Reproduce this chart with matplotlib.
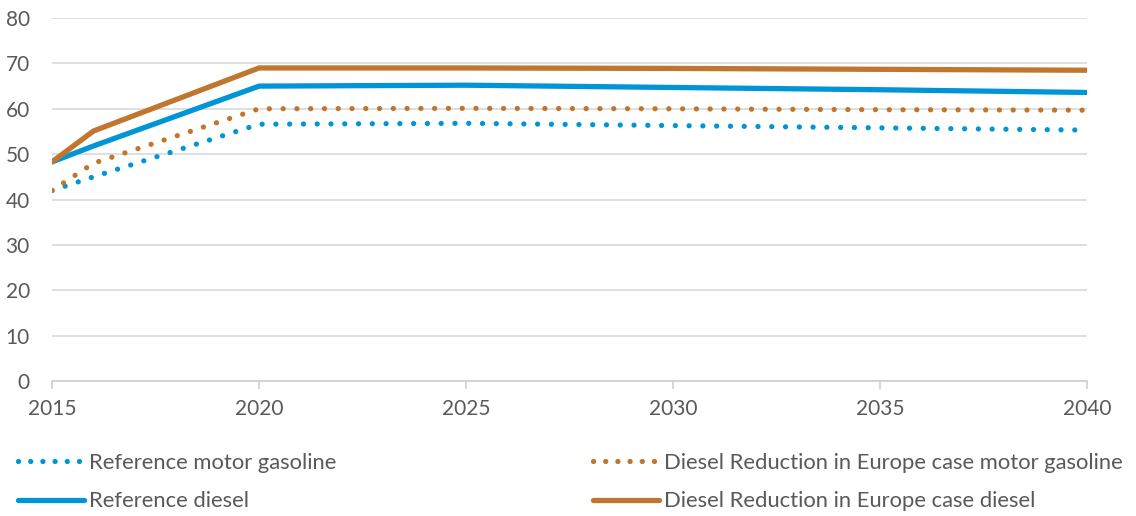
import matplotlib.pyplot as plt
from matplotlib.lines import Line2D

plt.rcParams['font.family'] = ['Lato', 'DejaVu Sans']

years = [2015, 2016, 2020, 2025, 2030, 2035, 2040]
ref_gasoline = [42.0, 45.0, 56.6, 56.8, 56.3, 55.8, 55.3]
ref_diesel = [48.3, 51.8, 65.0, 65.2, 64.7, 64.2, 63.6]
dre_gasoline = [42.0, 48.0, 60.0, 60.1, 60.0, 59.8, 59.7]
dre_diesel = [48.3, 55.1, 69.0, 69.0, 68.9, 68.7, 68.5]

blue = '#0096D6'
brown = '#C0762E'
txt = '#595959'
dots = (0, (0.01, 2.6))
leg_dots = (0, (0.01, 2.3))

fig = plt.figure(figsize=(11.36, 5.16), dpi=100)
ax = fig.add_axes([0.0458, 0.2616, 0.9112, 0.7034])

ax.plot(years, ref_gasoline, color=blue, lw=3.8, linestyle=dots, dash_capstyle='round')
ax.plot(years, dre_gasoline, color=brown, lw=3.8, linestyle=dots, dash_capstyle='round')
ax.plot(years, ref_diesel, color=blue, lw=3.8, solid_capstyle='round', solid_joinstyle='round')
ax.plot(years, dre_diesel, color=brown, lw=3.8, solid_capstyle='round', solid_joinstyle='round')

ax.set_xlim(2015, 2040)
ax.set_ylim(0, 80)
ax.set_yticks(range(0, 81, 10))
ax.set_xticks(range(2015, 2041, 5))
ax.grid(axis='y', color='#D9D9D9', lw=1.2)
ax.set_axisbelow(True)
for s in ['left', 'right', 'top']:
    ax.spines[s].set_visible(False)
ax.spines['bottom'].set_color('#D0D0D0')
ax.spines['bottom'].set_linewidth(1.2)
ax.tick_params(axis='y', length=0, pad=16, labelsize=15, labelcolor=txt)
ax.tick_params(axis='x', length=6, color='#D0D0D0', width=1.2, pad=7, labelsize=15, labelcolor=txt)

def handle(c, ls, lw):
    if ls == 'dot':
        return Line2D([], [], color=c, lw=lw, linestyle=leg_dots, dash_capstyle='round')
    return Line2D([], [], color=c, lw=lw, solid_capstyle='round')

leg_kw = dict(frameon=False, fontsize=15.8, labelcolor=txt, handlelength=3.0,
              handletextpad=0.25, labelspacing=0.85, borderaxespad=0, loc='upper left')
l1 = fig.legend([handle(blue, 'dot', 3.8), handle(blue, 'solid', 3.8)],
                ['Reference motor gasoline', 'Reference diesel'],
                bbox_to_anchor=(0.008, 0.14), **leg_kw)
l2 = fig.legend([handle(brown, 'dot', 3.8), handle(brown, 'solid', 3.8)],
                ['Diesel Reduction in Europe case motor gasoline', 'Diesel Reduction in Europe case diesel'],
                bbox_to_anchor=(0.514, 0.14), **leg_kw)

fig.savefig('out.png', dpi=100)
